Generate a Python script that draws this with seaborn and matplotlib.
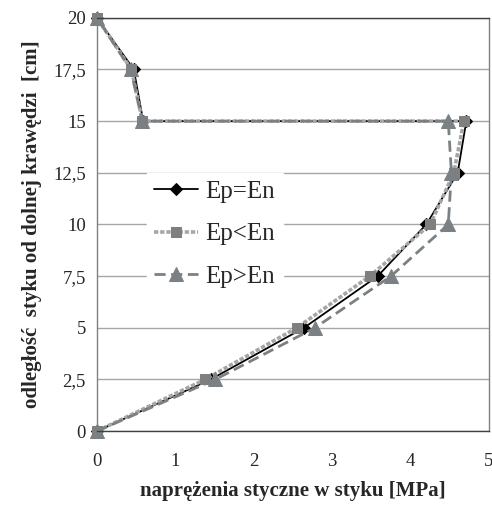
import pandas as pd
import matplotlib
matplotlib.use('Agg')
import matplotlib.pyplot as plt
import seaborn as sns

# wysokość styku [cm]
depth = [0, 2.5, 5, 7.5, 10, 12.5, 15, 15, 17.5, 20]

# naprężenia styczne [MPa]
ep_eq = [0, 1.45, 2.64, 3.58, 4.20, 4.60, 4.71, 0.59, 0.47, 0]
ep_lt = [0, 1.38, 2.55, 3.48, 4.25, 4.55, 4.68, 0.58, 0.44, 0]
ep_gt = [0, 1.51, 2.78, 3.75, 4.48, 4.52, 4.48, 0.58, 0.43, 0]

series_names = ['Ep=En', 'Ep<En', 'Ep>En']
x_ticks = [0, 1, 2, 3, 4, 5]
y_ticks = [0, 2.5, 5, 7.5, 10, 12.5, 15, 17.5, 20]
y_tick_labels = ['0', '2,5', '5', '7,5', '10', '12,5', '15', '17,5', '20']

sns.set_style('white')
plt.rcParams['font.family'] = ['Liberation Serif', 'DejaVu Serif']

fig = plt.figure(figsize=(4.92, 5.09), dpi=100)
ax = fig.add_axes([0.197, 0.153, 0.797, 0.812])

styles = [
    dict(color='black', linewidth=1.3, linestyle='-', marker='D', markersize=6.5,
         markerfacecolor='black', markeredgecolor='black'),
    dict(color='#a6a6a6', linewidth=2.6, linestyle=(0, (1.2, 0.5)), marker='s', markersize=7,
         markerfacecolor='#7f7f7f', markeredgecolor='#7f7f7f'),
    dict(color='#7a8083', linewidth=2.0, linestyle=(0, (4, 2)), marker='^', markersize=10,
         markerfacecolor='#7a8083', markeredgecolor='#7a8083'),
]

for name, xs, st in zip(series_names, [ep_eq, ep_lt, ep_gt], styles):
    df = pd.DataFrame({'x': xs, 'y': depth})
    sns.lineplot(data=df, x='x', y='y', sort=False, estimator=None, ax=ax,
                 label=name, clip_on=False, **st)

ax.set_xlim(0, 5)
ax.set_ylim(0, 20)
ax.set_xticks(x_ticks)
ax.set_yticks(y_ticks)
ax.set_yticklabels(y_tick_labels)
ax.tick_params(axis='both', labelsize=13.5, length=3, color='#808080', pad=5)
ax.tick_params(axis='x', pad=13)
ax.grid(axis='y', color='#a6a6a6', linewidth=1)
ax.set_axisbelow(True)
for s in ax.spines.values():
    s.set_color('#808080')
    s.set_linewidth(1)
ax.spines['bottom'].set_color('#404040')
ax.spines['top'].set_color('#404040')

ax.set_xlabel('naprężenia styczne w styku [MPa]', fontsize=15, fontweight='bold', labelpad=8)
ax.set_ylabel('odległość  styku od dolnej krawędzi  [cm]', fontsize=15, fontweight='bold', labelpad=8)

leg = ax.legend(loc='upper left', bbox_to_anchor=(0.095, 0.655), fontsize=18,
                frameon=True, facecolor='white', edgecolor='white', framealpha=1,
                handlelength=1.75, handletextpad=0.3, labelspacing=0.8,
                borderpad=0.3, fancybox=False)

fig.savefig('out.png', dpi=100)
